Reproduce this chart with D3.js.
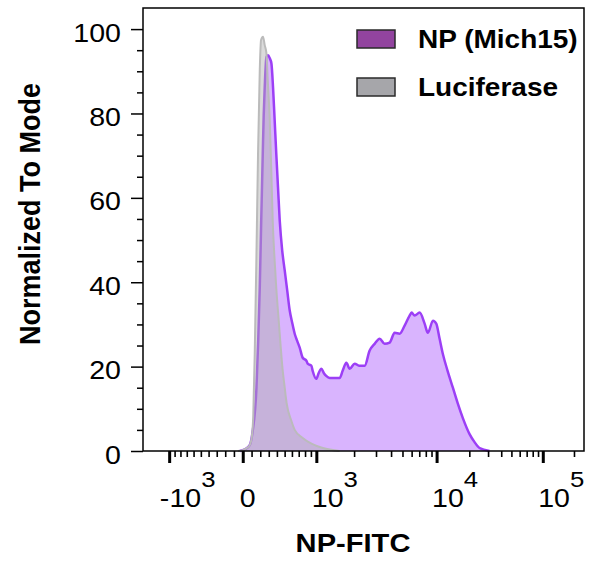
<!DOCTYPE html>
<html><head><meta charset="utf-8">
<script src="https://cdn.jsdelivr.net/npm/d3@7"></script>
<style>body{margin:0;background:#fff}svg{display:block}</style>
</head><body><svg id="c" width="589" height="565"></svg>
<script>
// ---------- data (fluorescence intensity, % of mode) ----------
const seriesNames = ["NP (Mich15)", "Luciferase"];
const npX = [-34,23,79,113,156,176,194,211,229,240,252,272,292,312,332,352,372,392,414,436,468,501,535,569,604,640,677,715,762,823,844,909,932,1000,1046,1100,1150,1203,1283,1355,1431,1539,1625,1737,1845,2021,2214,2428,2664,2925,3214,3534,3891,4286,4727,5217,5763,5998,6373,7052,7808,8350,9270,9930,10650,11400,12592,14080,15563,17410,20113,22397,24957,31000];
const npY = [0,0.4,1.4,4.75,15.0,26.1,38.7,54.6,70.5,79.6,86.2,93.4,93.8,93.1,91.9,86.2,78.4,70.5,62.5,54.6,47.5,42.8,38.0,33.3,30.4,27.8,26.1,24.5,22.1,21.4,20.7,20.2,19.0,17.1,18.5,19.5,18.5,17.8,17.3,17.3,17.3,17.3,19.0,20.9,19.5,20.7,20.2,20.2,23.8,25.4,26.6,25.4,25.7,28.0,27.8,29.7,32.1,32.8,32.1,32.8,30.2,28.0,30.9,30.2,26.6,23.0,19.0,15.0,11.4,7.8,4.0,2.1,0.7,0];
const lucX = [-56,0,45,79,101,119,136,156,174,194,209,232,252,272,288,312,336,348,372,392,423,475,501,528,593,640,762,1130,1539];
const lucY = [0,0.2,0.7,1.4,3.1,8.3,23,46.8,70.5,90.3,97.4,98.2,96.2,94.3,87.9,78.4,62.9,54.6,45.1,38.7,30.9,19.0,15.0,11.2,7.1,5.0,3.1,0.7,0];
const yMajor = [0,20,40,60,80,100];
const yMinor = [5,10,15,25,30,35,45,50,55,65,70,75,85,90,95];
const xMajor = [-1000,0,1000,10000,100000];
const xMajorLabels = [["-10","3"],["0",""],["10","3"],["10","4"],["10","5"]];
const xMinor = [-900,-800,-700,-600,-500,-400,-300,-200,-100,100,200,300,400,500,600,700,800,900,
  2000,3000,4000,5000,6000,7000,8000,9000,20000,30000,40000,50000,60000,70000,80000,90000,200000];

// ---------- biexponential (logicle-like) transform ----------
const P = 3.2, C = 120.4;
function fwd(u){ const a=Math.abs(u); const v=C*(Math.pow(10,a)+P*P-1-P*P*Math.pow(10,-a/P)); return u<0?-v:v; }
function inv(x){ let lo=-6, hi=7; for(let i=0;i<80;i++){ const m=(lo+hi)/2; if(fwd(m)<x) lo=m; else hi=m; } return (lo+hi)/2; }
const L=143, R=584, T=8, B=451;
const xMin=-1620, xMax=250000;
const xU = d3.scaleLinear().domain([inv(xMin), inv(xMax)]).range([L,R]);
const x = v => xU(inv(v));
x.domain = () => [xMin,xMax]; x.range = () => xU.range(); x.copy = () => x;
const y = d3.scaleLinear().domain([0,105]).range([B,T]);

const svg = d3.select("#c");
const FONT = "'Liberation Sans', Arial, Helvetica, sans-serif";
const SX = 1.12;

// ---------- areas ----------
const np = npX.map((v,i)=>[v,npY[i]]);
const luc = lucX.map((v,i)=>[v,lucY[i]]);
const area = d3.area().x(d=>x(d[0])).y0(y(0)).y1(d=>y(d[1])).curve(d3.curveMonotoneX);
const line = d3.line().x(d=>x(d[0])).y(d=>y(d[1])).curve(d3.curveMonotoneX);
const g = svg.append("g");
g.append("path").attr("d",area(np)).attr("fill","#d9b4fe");
g.append("path").attr("d",line(np)).attr("fill","none").attr("stroke","#9c3ff6").attr("stroke-width",2.5);
g.append("path").attr("d",area(luc)).attr("fill","#b0b0b0").attr("fill-opacity",0.45);
g.append("path").attr("d",line(luc)).attr("fill","none").attr("stroke","#bbbbbb").attr("stroke-width",2);

// ---------- frame ----------
svg.append("rect").attr("x",L).attr("y",T).attr("width",R-L).attr("height",B-T)
  .attr("fill","none").attr("stroke","#000").attr("stroke-width",1.5);

// ---------- y axis ----------
const ya1 = svg.append("g").attr("transform",`translate(${L},0)`).call(d3.axisLeft(y).tickValues(yMajor).tickSize(12).tickFormat(""));
const ya2 = svg.append("g").attr("transform",`translate(${L},0)`).call(d3.axisLeft(y).tickValues(yMinor).tickSize(6).tickFormat(""));
[ya1,ya2].forEach(a=>{a.select(".domain").remove(); a.selectAll("line").attr("stroke","#000").attr("stroke-width",1.5);});
yMajor.forEach(v=>{
  svg.append("g").attr("transform",`translate(121,${y(v)+12.5}) scale(${SX},1)`)
    .append("text").attr("text-anchor","end").attr("font-family",FONT).attr("font-size",25.5).attr("fill","#000").text(v);
});

// ---------- x axis ----------
const xa1 = svg.append("g").attr("transform",`translate(0,${B})`).call(d3.axisBottom(x).tickValues(xMajor).tickSize(12).tickFormat(""));
const xa2 = svg.append("g").attr("transform",`translate(0,${B})`).call(d3.axisBottom(x).tickValues(xMinor).tickSize(6).tickFormat(""));
[xa1,xa2].forEach(a=>a.select(".domain").remove());
xa1.selectAll("line").attr("stroke","#000").attr("stroke-width",3);
xa2.selectAll("line").attr("stroke","#000").attr("stroke-width",1.6);
xMajor.forEach((v,i)=>{
  const [base,exp] = xMajorLabels[i];
  const off = exp ? 18.5 : 5;
  const t = svg.append("g").attr("transform",`translate(${x(v)+off},507) scale(${SX},1)`)
    .append("text").attr("text-anchor","middle").attr("font-family",FONT).attr("font-size",25.5).attr("fill","#000");
  t.append("tspan").text(base);
  if(exp) t.append("tspan").attr("dy",-20).attr("font-size",23).text(exp);
});

// ---------- titles ----------
svg.append("g").attr("transform",`translate(353,552) scale(${SX},1)`)
  .append("text").attr("text-anchor","middle").attr("font-family",FONT).attr("font-weight","bold")
  .attr("font-size",26).attr("fill","#000").text("NP-FITC");
svg.append("g").attr("transform",`translate(40,214) scale(${SX},1) rotate(-90)`)
  .append("text").attr("text-anchor","middle").attr("font-family",FONT).attr("font-weight","bold")
  .attr("font-size",27).attr("fill","#000").text("Normalized To Mode");

// ---------- legend ----------
const legColors = ["#92449f","#a6a6aa"];
seriesNames.forEach((n,i)=>{
  const yy = 30 + i*48;
  svg.append("rect").attr("x",357).attr("y",yy).attr("width",38).attr("height",18)
    .attr("fill",legColors[i]).attr("stroke","#2a2a2a").attr("stroke-width",1.5);
  svg.append("g").attr("transform",`translate(418,${yy+18}) scale(${SX},1)`)
    .append("text").attr("font-family",FONT).attr("font-weight","bold").attr("font-size",25).attr("fill","#000").text(n);
});
</script></body></html>
